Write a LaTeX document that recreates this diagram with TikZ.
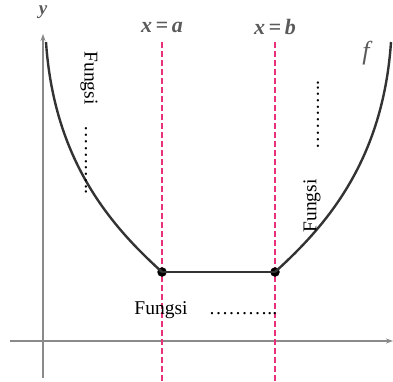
\documentclass[tikz,border=0pt]{standalone}
\usepackage{fontspec}
\setmainfont{Liberation Serif}
\usetikzlibrary{arrows.meta}
\definecolor{axisgray}{HTML}{8A8A8A}
\definecolor{labelgray}{HTML}{5A5A5A}
\definecolor{curvecol}{HTML}{333333}
\definecolor{pinkdash}{HTML}{E8317A}
\tikzset{
  axis/.style={axisgray, line width=1.2pt, -{Stealth[length=7pt,width=5pt]}},
  guide/.style={pinkdash, line width=1.6pt, dash pattern=on 6pt off 3pt},
  graph/.style={curvecol, line width=2.4pt},
  dotpt/.style={circle, fill=black, inner sep=0pt, minimum size=9.5pt},
  axlabel/.style={labelgray, font=\fontsize{22}{22}\selectfont\bfseries\itshape, inner sep=0pt},
  fungsi/.style={font=\fontsize{19.5}{20}\selectfont, inner sep=0pt}
}
\begin{document}
\begin{tikzpicture}[x=1pt,y=-1pt]
\useasboundingbox (0,0) rectangle (393,381);
% axes
\coordinate (ybot) at (43,378);
\coordinate (ytop) at (43,34);
\coordinate (xl) at (10,341);
\coordinate (xr) at (393,341);
\draw[axis] (ybot) -- (ytop);
\draw[axis] (xl) -- (xr);
\node[axlabel, font=\fontsize{19}{19}\selectfont\bfseries\itshape] (ylab) at (43,12) {y};
% guide lines
\coordinate (at) at (162,42);
\coordinate (ab) at (162,381);
\coordinate (bt) at (275,42);
\coordinate (bb) at (275,381);
\draw[guide] (at) -- (ab);
\draw[guide] (bt) -- (bb);
\node[axlabel] (xa) at (162,27) {x\,=\,a};
\node[axlabel] (xb) at (275,27) {x\,=\,b};
% graph
\coordinate (lt) at (46,42);
\coordinate (rt) at (391,42);
\node[dotpt] (pa) at (162,272) {};
\node[dotpt] (pb) at (275,272) {};
\draw[graph] (lt) .. controls (54,160) and (110,225) .. (pa.center);
\draw[graph] (pa.center) -- (pb.center);
\draw[graph] (pb.center) .. controls (327,225) and (383,160) .. (rt);
\node[axlabel, font=\fontsize{26}{26}\selectfont\itshape] (flab) at (366,53) {f};
% texts
\node[fungsi, rotate=-90] (lf) at (89,78) {Fungsi};
\node[fungsi, rotate=-90] (ld) at (86,160) {………..};
\node[fungsi, rotate=90] (rf) at (312,206) {Fungsi};
\node[fungsi, rotate=90] (rd) at (318,115) {………..};
\node[fungsi] (bf) at (161,310) {Fungsi};
\node[fungsi] (bd) at (243,314) {………..};
\end{tikzpicture}
\end{document}
